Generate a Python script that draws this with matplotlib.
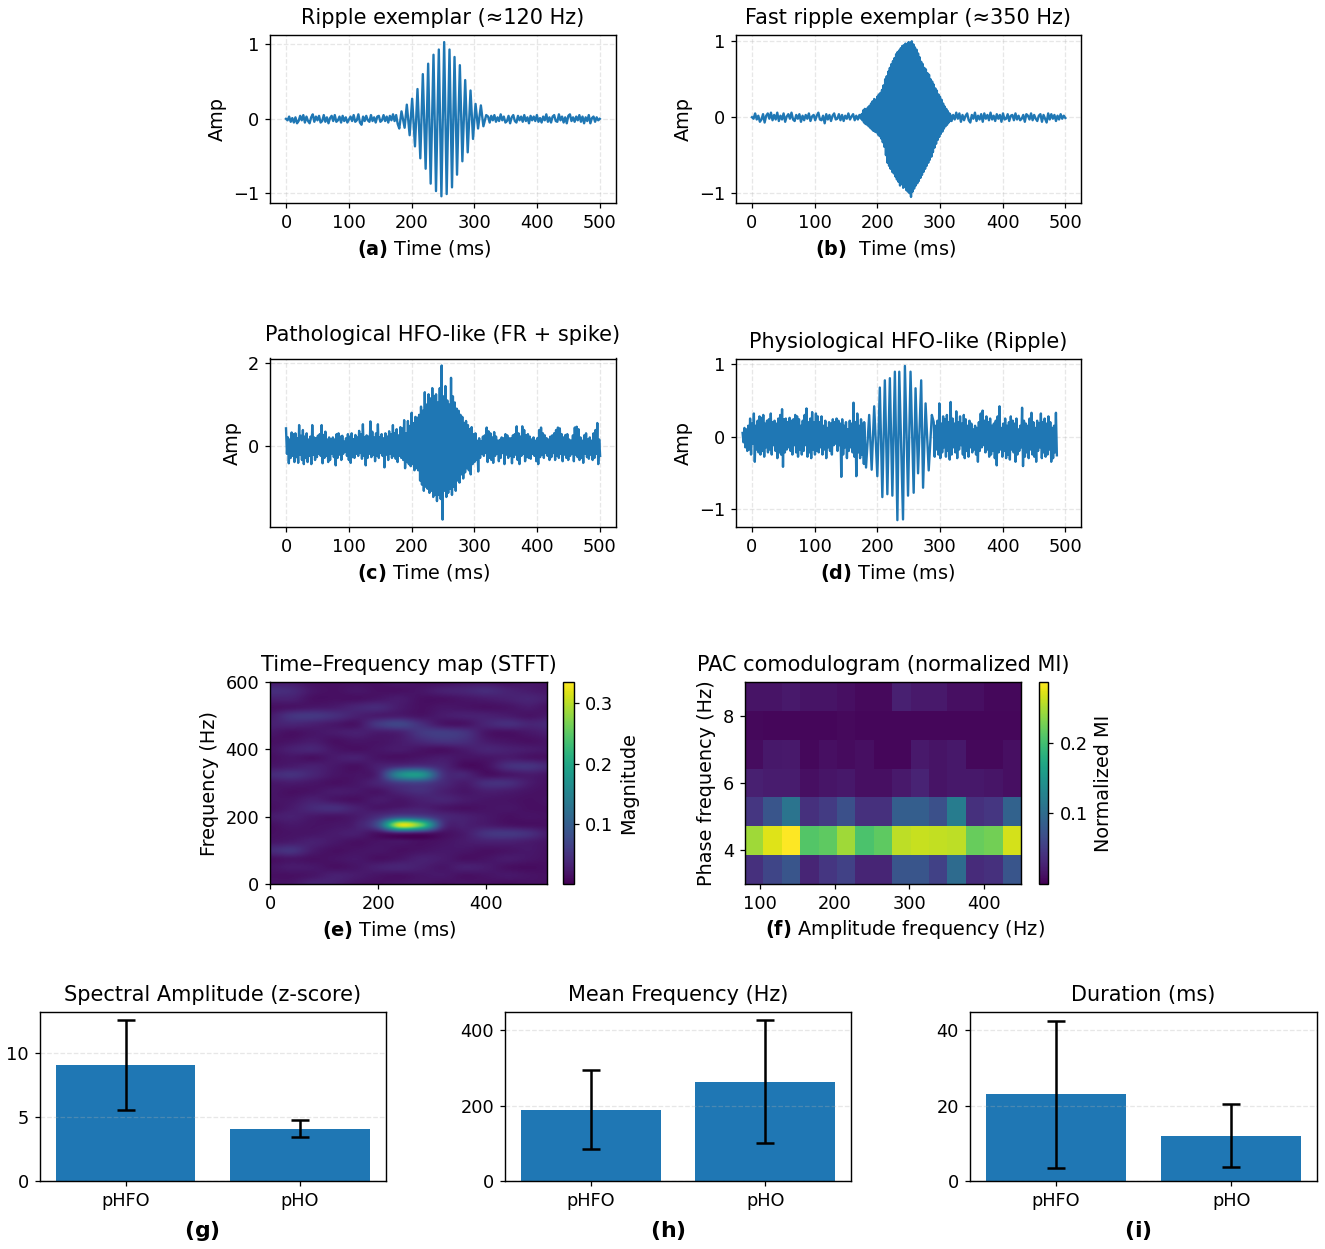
import numpy as np
import matplotlib
matplotlib.use("Agg")
import matplotlib.pyplot as plt

W, H, DPI = 1325, 1249, 113
BLUE = "#1f77b4"

plt.rcParams["font.size"] = 11.3
plt.rcParams["axes.titlesize"] = 13.3
plt.rcParams["axes.labelsize"] = 12.3
plt.rcParams["axes.linewidth"] = 0.9

# panel (a), hundredths of amp
a_pre = [0,-2,3,-4,1,-5,2,-6,-3,4,-2,5,-5,3,-3,-6,2,6,-4,3,-2,4,-5,-3,5,-4,2,-6,1,4,-3,5,-4,-2,3,-5,
         4,-3,2,-5,-1,3,-3,5,-4,-2,6,-5,-8,3,-3,4,-2,-4,5,-3,2,-5,3,4,-4,-2,5,-3,3,-5,4,-2,6,-3,5,-7]
a_burst_t = [180.5,184,189,192.5,197,201,205.5,209.5,214,218,222.5,226.5,230.5,235,239,243.5,247.6,252,
             256,260.5,264.5,268.5,272.5,277,281,285.5,289.5,294,298,302,306,310.5,314.5,319]
a_burst_v = [-13,10,-12,19,-22,27,-37,40,-53,60,-67,74,-87,86,-97,93,-104,103,
             -101,93,-92,83,-75,72,-57,52,-45,38,-27,20,-13,18,-10,5]
a_post = [3,-5,4,-2,5,-4,2,-3,6,-2,3,-5,-3,4,-6,2,5,-3,-5,4,-2,3,-4,5,-3,2,-6,4,-2,3,-3,5,-4,1,-5,3,
          -2,6,-4,2,-5,3,5,-3,-4,6,-2,3,-5,2,-6,4,6,-3,2,-4,3,-2,5,-4,3,-6,2,-3,5,-6,1,3,-4,2,-2,0]

# panel (b), hundredths of amp
b_pre = [0,-2,5,-3,2,-6,-3,4,-7,2,5,-2,6,-4,3,-3,6,-5,2,-3,5,-6,1,4,-2,6,-3,-5,3,-2,4,-6,2,-4,3,-2,
         5,-5,1,3,-4,2,6,-3,-4,2,-8,4,-3,3,-5,2,5,-3,-2,4,-4,3,-5,2,-2,5,-3,1,4,-4,2,-3,3,-2]
b_up = [4,9,11,10,13,15,18,21,24,23,27,30,32,36,42,50,54,60,65,70,74,78,83,86,88,91,94,95,97,96,
        99,98,100,96,92,89,84,79,73,70,65,63,58,56,50,47,43,38,35,30,27,23,18,14,11,8,5]
b_lo = [-4,-7,-9,-10,-12,-14,-16,-18,-19,-20,-23,-25,-28,-33,-39,-50,-60,-64,-68,-72,-74,-78,-82,-85,-90,-88,-93,-92,-96,-98,
        -100,-105,-98,-94,-90,-87,-84,-80,-76,-72,-68,-64,-60,-56,-52,-46,-40,-35,-30,-26,-22,-19,-15,-12,-10,-7,-5]
b_post = [4,-5,3,-3,6,-2,5,-6,3,-4,2,5,-4,-7,3,-2,6,-5,2,-3,4,-6,5,-2,3,-4,6,-3,2,-5,4,-2,3,-6,5,-3,
          -2,4,-5,2,3,-4,5,-3,2,-4,-2,3,-6,4,2,-3,5,-4,3,-2,-5,2,4,-6,3,-2,-7,5,-3,4,-2,3,-5,2,-3,4,-2,2,-1]

# panel (c), upper and lower trace limits every 3 ms
c_up = [42,20,15,32,28,30,18,50,24,38, 22,30,15,22,50,20,18,24,28,50, 26,34,15,20,16,20,15,28,30,22,
        24,10,18,28,22,30,16,26,20,36, 28,52,20,25,22,59,34,20,30,52, 20,28,18,30,22,35,28,50,30,40,
        25,45,42,62,30,60,48,80,55,70, 68,75,95,85,130,100,125,115,140,120, 125,105,140,195,120,145,110,100,165,120,
        105,90,85,75,70,55,60,50,40,45, 28,30,12,18,10,22,25,44,35,30, 20,33,22,12,14,20,18,28,25,18,
        18,25,28,47,30,22,47,38,25,28, 22,15,20,12,18,38,44,30,25,18, 15,22,25,30,38,44,42,28,20,26,
        28,15,12,25,44,46,40,20,12,25, 30,15,20,12,30,38,55,15]
c_lo = [-20,-43,-30,-25,-40,-28,-42,-22,-35,-45, -30,-40,-25,-45,-22,-35,-28,-20,-25,-43, -30,-25,-40,-35,-20,-28,-48,-30,-22,-35,
        -20,-15,-25,-35,-42,-28,-30,-20,-25,-18, -32,-25,-48,-30,-20,-28,-22,-38,-25,-30, -18,-25,-53,-22,-35,-20,-30,-25,-32,-40,
        -25,-30,-35,-55,-40,-45,-50,-45,-60,-55, -60,-85,-95,-110,-100,-105,-115,-110,-125,-120, -135,-120,-130,-180,-110,-125,-115,-105,-120,-100,
        -110,-85,-90,-70,-80,-65,-55,-60,-70,-45, -40,-35,-63,-30,-20,-25,-18,-40,-30,-35, -42,-25,-20,-38,-30,-18,-45,-22,-30,-25,
        -43,-28,-22,-35,-45,-25,-20,-38,-28,-30, -32,-20,-25,-38,-45,-28,-22,-30,-18,-25, -35,-28,-18,-35,-25,-30,-20,-38,-22,-30,
        -35,-25,-20,-38,-22,-28,-35,-30,-42,-20, -28,-32,-22,-35,-30,-20,-45,-25]

# panel (d), noise limits every 3 ms either side of the ripple
d_pre_up = [5,12,10,15,25,18,32,15,22,28, 26,30,18,22,24,32,20,22,18,25, 30,38,24,25,20,26,22,24,30,28,
            24,15,22,30,39,20,25,34,20,32, 28,20,28,15,22,12,20,18,24,20, 25,22,18,24,15,20,10,22,18,47, 20,32,15,24,18]
d_pre_lo = [-8,-15,-20,-18,-25,-10,-35,-18,-22,-25, -20,-28,-15,-22,-18,-25,-12,-20,-30,-22, -25,-42,-22,-18,-15,-20,-25,-12,-22,-28,
            -18,-25,-20,-12,-28,-22,-30,-18,-25,-20, -22,-15,-25,-18,-30,-15,-20,-25,-12,-10, -20,-12,-56,-25,-15,-30,-20,-15,-22,-28, -55,-22,-30,-25,-38]
d_burst_t = [179,182,187,191,195,200,204,208,212,216,220,224,228,232,235,241,244,249,253,258,261,265,270,273,277,282,287]
d_burst_v = [20,-43,30,-46,42,-55,68,-84,78,-80,81,-82,90,-116,90,-115,98,-82,90,-78,67,-51,78,-71,46,-47,30]
d_post_up = [20,15,22,46,18,28,24,30,20,48, 25,18,35,20,28,18,30,24,15,22, 18,10,15,12,20,32,36,22,28,20,
             25,15,18,22,28,42,12,18,25,15, 20,28,22,18,25,10,15,40,22,18, 15,25,33,20,12,22,18,32,20,25, 18,28,20,12,15,33]
d_post_lo = [-28,-18,-25,-30,-22,-15,-28,-20,-32,-25, -15,-22,-30,-18,-12,-25,-30,-20,-28,-15, -22,-18,-25,-35,-20,-15,-12,-22,-18,-28,
             -25,-20,-30,-40,-22,-18,-28,-20,-30,-25, -32,-18,-22,-35,-25,-20,-15,-41,-28,-22, -30,-18,-25,-28,-35,-20,-15,-30,-22,-28, -25,-18,-35,-30,-22,-26]

# panel (e), magnitude x 1000, rows 0..600 Hz, columns 0..520 ms
stft_freqs = list(range(0, 601, 25))
stft_times = list(range(0, 521, 40))
stft_mag = [
    [18,20,35,30,18,15,18,20,15,18,15,12,15,15],
    [15,15,20,30,25,18,15,20,22,15,18,22,18,15],
    [18,25,22,15,20,30,35,28,20,30,25,15,12,15],
    [15,20,15,18,22,15,20,30,25,15,18,25,20,15],
    [40,50,25,15,18,20,15,18,22,20,15,18,22,15],
    [20,25,30,22,15,18,20,15,18,25,30,30,25,18],
    [15,18,20,25,28,15,25,20,15,25,50,55,45,22],
    [15,22,18,20,30,85,310,250,50,30,25,18,15,15],
    [25,30,22,18,25,45,80,70,40,30,22,15,18,15],
    [15,25,40,45,30,20,25,30,20,15,18,20,15,15],
    [18,20,30,20,15,25,20,30,35,25,20,18,15,18],
    [20,15,18,25,22,18,35,45,30,20,28,25,18,15],
    [22,25,20,15,20,35,60,65,40,25,45,45,25,15],
    [40,48,35,20,18,35,160,175,50,35,15,20,25,18],
    [20,25,30,22,15,30,45,50,35,12,15,45,50,35],
    [15,20,15,25,30,18,15,20,25,18,20,25,18,15],
    [18,30,35,20,15,20,25,18,15,25,35,30,25,20],
    [15,18,25,15,20,18,25,40,50,45,25,18,15,20],
    [22,15,20,25,30,25,30,55,60,50,20,15,22,30],
    [30,35,30,22,18,55,70,45,20,18,35,45,35,40],
    [25,50,55,45,30,25,25,18,25,30,30,25,18,25],
    [15,18,22,25,35,40,25,15,20,18,15,18,25,15],
    [30,30,15,15,15,20,25,15,15,20,25,30,35,25],
    [45,40,20,15,20,15,15,20,30,35,42,32,25,20],
    [25,25,15,15,15,15,20,15,15,20,20,15,20,15],
]

# panel (f), rows top to bottom
pac_mi = [
    [.015,.015,.020,.015,.015,.012,.007,.007,.025,.020,.020,.012,.012,.006,.006],
    [.006,.005,.005,.005,.005,.007,.005,.005,.005,.005,.005,.005,.005,.005,.005],
    [.010,.018,.020,.006,.012,.008,.012,.005,.005,.020,.015,.018,.006,.006,.012],
    [.025,.022,.022,.012,.016,.018,.012,.012,.020,.028,.015,.018,.018,.016,.012],
    [.045,.075,.110,.040,.050,.070,.040,.040,.085,.085,.070,.120,.040,.045,.090],
    [.245,.272,.286,.210,.215,.245,.205,.215,.258,.262,.260,.258,.220,.225,.268],
    [.040,.060,.075,.030,.045,.055,.030,.030,.075,.075,.055,.100,.035,.040,.075],
]

# bar panels
groups = ["pHFO", "pHO"]
amp_mean, amp_low, amp_high = [9.05, 4.09], [5.57, 3.44], [12.58, 4.77]
freq_mean, freq_low, freq_high = [187, 263], [85, 102], [293, 427]
dur_mean, dur_low, dur_high = [23, 12], [3.5, 3.8], [42.5, 20.5]


def add_ax(fig, left, top, right, bottom):
    return fig.add_axes([left / W, 1 - bottom / H, (right - left) / W, (bottom - top) / H])


def zigzag(start, end, up, lo):
    t = np.linspace(start, end, len(up))
    xs = np.column_stack([t, t + (t[1] - t[0]) / 2]).ravel()
    ys = np.column_stack([up, lo]).ravel()
    return xs, ys / 100


def plot_trace(ax, t, v, title, label, label_x, ylim, yticks, title_pad=7, ylabel_pad=4):
    ax.plot(t, v, color=BLUE, lw=1.5)
    ax.set_title(title, pad=title_pad)
    ax.set_xlabel(label, x=label_x, labelpad=4)
    ax.set_ylabel("Amp", labelpad=ylabel_pad)
    ax.set_xlim(-25.5, 525)
    ax.set_ylim(*ylim)
    ax.set_xticks([0, 100, 200, 300, 400, 500])
    ax.set_yticks(yticks)
    ax.grid(True, ls="--", alpha=0.3)


def plot_bars(ax, mean, low, high, title, label, label_x, ylim, yticks):
    x = np.arange(len(groups))
    err = [np.array(mean) - np.array(low), np.array(high) - np.array(mean)]
    ax.bar(x, mean, color=BLUE)
    ax.errorbar(x, mean, yerr=err, fmt="none", ecolor="k", elinewidth=1.6, capsize=6, capthick=1.6)
    ax.set_title(title, pad=7)
    ax.set_xticks(x, groups)
    ax.set_xlabel(label, x=label_x, labelpad=6, fontsize=14)
    ax.set_ylim(*ylim)
    ax.set_yticks(yticks)
    ax.grid(True, axis="y", ls="--", alpha=0.3)


fig = plt.figure(figsize=(W / DPI, H / DPI), dpi=DPI)

# (a)
a_t = np.concatenate([np.linspace(0, 178, len(a_pre)), a_burst_t, np.linspace(322, 500, len(a_post))])
a_v = np.concatenate([a_pre, a_burst_v, a_post]) / 100
plot_trace(add_ax(fig, 270, 35, 615.5, 203), a_t, a_v, "Ripple exemplar (≈120 Hz)",
           r"$\bf{(a)}$ Time (ms)", 0.446, (-1.13, 1.125), [-1, 0, 1])

# (b)
b_x, b_y = zigzag(175, 315, b_up, b_lo)
b_t = np.concatenate([np.linspace(0, 174, len(b_pre)), b_x, np.linspace(316, 500, len(b_post))])
b_v = np.concatenate([np.array(b_pre) / 100, b_y, np.array(b_post) / 100])
plot_trace(add_ax(fig, 736, 35, 1081, 203), b_t, b_v, "Fast ripple exemplar (≈350 Hz)",
           r"$\bf{(b)}$  Time (ms)", 0.435, (-1.13, 1.083), [-1, 0, 1])

# (c)
c_t, c_v = zigzag(0, 499, c_up, c_lo)
plot_trace(add_ax(fig, 270, 358.5, 615.5, 527), c_t, c_v, "Pathological HFO-like (FR + spike)",
           r"$\bf{(c)}$ Time (ms)", 0.444, (-1.98, 2.12), [0, 2], title_pad=11)

# (d)
d1_x, d1_y = zigzag(-15, 177, d_pre_up, d_pre_lo)
d2_x, d2_y = zigzag(290, 485, d_post_up, d_post_lo)
d_t = np.concatenate([d1_x, d_burst_t, d2_x])
d_v = np.concatenate([d1_y, np.array(d_burst_v) / 100, d2_y])
plot_trace(add_ax(fig, 736, 358.5, 1081, 527), d_t, d_v, "Physiological HFO-like (Ripple)",
           r"$\bf{(d)}$ Time (ms)", 0.44, (-1.255, 1.083), [-1, 0, 1])

# (e)
ax_e = add_ax(fig, 270, 682, 547, 884)
dt = stft_times[1] - stft_times[0]
df = stft_freqs[1] - stft_freqs[0]
im_e = ax_e.imshow(np.array(stft_mag) / 1000, origin="lower", aspect="auto", cmap="viridis",
                   interpolation="catrom", vmin=0.001, vmax=0.335,
                   extent=[stft_times[0] - dt / 2, stft_times[-1] + dt / 2,
                           stft_freqs[0] - df / 2, stft_freqs[-1] + df / 2])
ax_e.set_xlim(0, 512)
ax_e.set_ylim(0, 600)
ax_e.set_xticks([0, 200, 400])
ax_e.set_yticks([0, 200, 400, 600])
ax_e.set_title("Time–Frequency map (STFT)", pad=7)
ax_e.set_xlabel(r"$\bf{(e)}$ Time (ms)", x=0.431, labelpad=4)
ax_e.set_ylabel("Frequency (Hz)", labelpad=4)
cax_e = add_ax(fig, 563, 682, 573.5, 884)
cb_e = fig.colorbar(im_e, cax=cax_e)
cb_e.set_ticks([0.1, 0.2, 0.3])
cb_e.set_label("Magnitude")

# (f)
ax_f = add_ax(fig, 745, 682, 1021, 884)
im_f = ax_f.imshow(pac_mi, aspect="auto", cmap="viridis", interpolation="nearest",
                   vmin=0.0, vmax=0.286, extent=[80, 450, 3, 9])
ax_f.set_xticks([100, 200, 300, 400])
ax_f.set_yticks([4, 6, 8])
ax_f.set_title("PAC comodulogram (normalized MI)", pad=7)
ax_f.set_xlabel(r"$\bf{(f)}$ Amplitude frequency (Hz)", x=0.58, labelpad=3)
ax_f.set_ylabel("Phase frequency (Hz)", labelpad=4)
cax_f = add_ax(fig, 1039, 682, 1048.5, 884)
cb_f = fig.colorbar(im_f, cax=cax_f)
cb_f.set_ticks([0.1, 0.2])
cb_f.set_label("Normalized MI")

# (g) (h) (i)
plot_bars(add_ax(fig, 40, 1012, 385.5, 1181), amp_mean, amp_low, amp_high, "Spectral Amplitude (z-score)",
          r"$\bf{(g)}$", 0.468, (0, 13.18), [0, 5, 10])
plot_bars(add_ax(fig, 505, 1012, 851, 1181), freq_mean, freq_low, freq_high, "Mean Frequency (Hz)",
          r"$\bf{(h)}$", 0.47, (0, 448), [0, 200, 400])
plot_bars(add_ax(fig, 970, 1012, 1317, 1181), dur_mean, dur_low, dur_high, "Duration (ms)",
          r"$\bf{(i)}$", 0.484, (0, 44.8), [0, 20, 40])

fig.savefig("out.png", dpi=DPI)
